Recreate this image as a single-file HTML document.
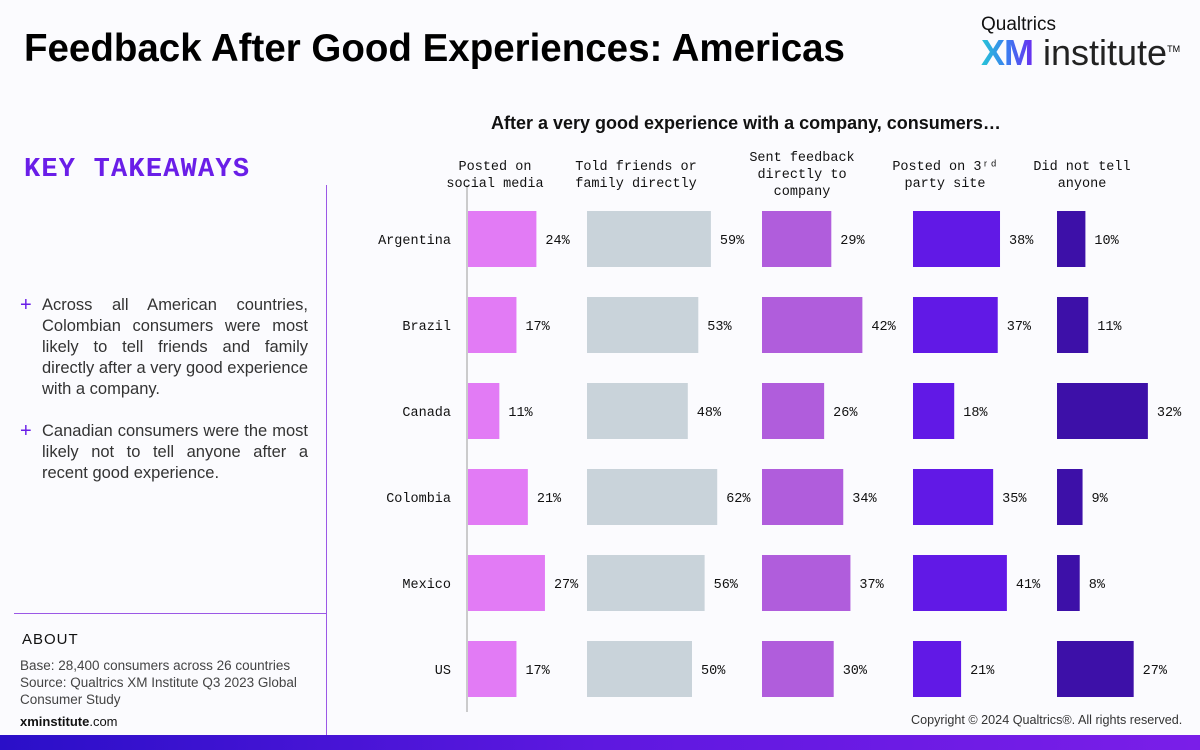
<!DOCTYPE html>
<html><head><meta charset="utf-8"><style>
body{margin:0;width:1200px;height:750px;overflow:hidden;background:#fbfbfe;font-family:"Liberation Sans",sans-serif;position:relative}
.a{position:absolute}
.mono{font-family:"Liberation Mono",monospace}
</style></head><body>
<div class="a" style="left:24px;top:27px;font-size:38.5px;font-weight:bold;color:#000;letter-spacing:0px">Feedback After Good Experiences: Americas</div>
<div class="a" style="left:981px;top:14px;width:210px">
<div style="font-size:19px;color:#111">Qualtrics</div>
<div style="font-size:36px;line-height:30px;margin-top:-2px;white-space:nowrap"><b style="background:linear-gradient(90deg,#25c6d6,#3b7df0,#6a2cf0);-webkit-background-clip:text;color:transparent;letter-spacing:-1px">XM</b><span style="color:#222"> institute</span><sup style="font-size:9px">TM</sup></div>
</div>
<div class="a mono" style="left:24px;top:155px;font-size:27px;font-weight:bold;color:#6a1ee8;letter-spacing:1.2px">KEY TAKEAWAYS</div>
<div class="a" style="left:326px;top:185px;width:1px;height:550px;background:#9b58e6"></div>
<div class="a" style="left:14px;top:613px;width:312px;height:1px;background:#9b58e6"></div>
<div class="a" style="left:20px;top:295px;width:288px;font-size:16.5px;line-height:21px;color:#333"><span style="position:absolute;left:0;color:#6a1ee8;font-size:20px">+</span><div style="margin-left:22px;text-align:justify">Across all American countries, Colombian consumers were most likely to tell friends and family directly after a very good experience with a company.</div></div>
<div class="a" style="left:20px;top:421px;width:288px;font-size:16.5px;line-height:21px;color:#333"><span style="position:absolute;left:0;color:#6a1ee8;font-size:20px">+</span><div style="margin-left:22px;text-align:justify">Canadian consumers were the most likely not to tell anyone after a recent good experience.</div></div>
<div class="a" style="left:22px;top:631px;font-size:15px;color:#111;letter-spacing:1px">ABOUT</div>
<div class="a" style="left:20px;top:657px;font-size:13.5px;line-height:17px;color:#444;width:300px">Base: 28,400 consumers across 26 countries<br>Source: Qualtrics XM Institute Q3 2023 Global Consumer Study</div>
<div class="a" style="left:20px;top:714px;font-size:13px;color:#111"><b>xminstitute</b>.com</div>
<div class="a" style="left:911px;top:713px;font-size:12.6px;color:#333">Copyright © 2024 Qualtrics®. All rights reserved.</div>
<div class="a" style="left:0;top:735px;width:1200px;height:15px;background:linear-gradient(90deg,#2a0fc8,#5e18e0,#7a1ee8)"></div>
<div class="a" style="left:491px;top:113px;font-size:18px;font-weight:bold;color:#111">After a very good experience with a company, consumers…</div>
<svg class="a" style="left:0;top:0" width="1200" height="750" id="chart"></svg>
<script>
const countries=["Argentina","Brazil","Canada","Colombia","Mexico","US"];
const social=[24,17,11,21,27,17];
const friends=[59,53,48,62,56,50];
const direct=[29,42,26,34,37,30];
const thirdParty=[38,37,18,35,41,21];
const notTell=[10,11,32,9,8,27];
const seriesNames=[["Posted on","social media"],["Told friends or","family directly"],["Sent feedback","directly to","company"],["Posted on 3ʳᵈ","party site"],["Did not tell","anyone"]];
const series=[social,friends,direct,thirdParty,notTell];
const colStart=[468,587,762,913,1057], colScale=[2.85,2.1,2.39,2.29,2.84];
const colors=["#e27bf5","#c9d3da","#b05ddc","#6119e6","#3d10a8"];
const svg=document.getElementById('chart');const NS="http://www.w3.org/2000/svg";
function y(i){return 239+i*86;}
function mk(t,a){const e=document.createElementNS(NS,t);for(const k in a)e.setAttribute(k,a[k]);svg.appendChild(e);return e;}
let ax=mk('line',{x1:467,x2:467,y1:185,y2:712,stroke:'#bbb','stroke-width':1.5});


seriesNames.forEach((lines,c)=>{
  const cx=[495,636,802,945,1082][c];
  const top=lines.length===3?161:170;
  lines.forEach((ln,k)=>{
    const t=mk('text',{x:cx,y:top+k*17,'text-anchor':'middle','font-family':'Liberation Mono, monospace','font-size':13.5,fill:'#111'});
    t.textContent=ln;
    
    
  });
});
countries.forEach((n,i)=>{
  const t=mk('text',{x:451,y:y(i)+5,'text-anchor':'end','font-family':'Liberation Mono, monospace','font-size':13.5,fill:'#111'});
  t.textContent=n;
  
  
  series.forEach((s,c)=>{
    const w=s[i]*colScale[c];
    const r=mk('rect',{x:colStart[c],y:y(i)-28,width:w,height:56,fill:colors[c]});
    
    
    const v=mk('text',{x:colStart[c]+w+9,y:y(i)+5,'font-family':'Liberation Mono, monospace','font-size':13.5,fill:'#111'});
    v.textContent=s[i]+'%';
    
    
  });
});
</script>
</body></html>
